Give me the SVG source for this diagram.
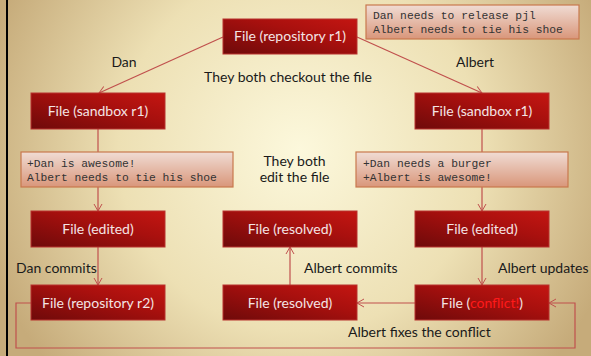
<svg xmlns="http://www.w3.org/2000/svg" width="591" height="356" viewBox="0 0 591 356">
<defs>
<radialGradient id="bg" cx="300" cy="150" r="330" gradientUnits="userSpaceOnUse">
<stop offset="0" stop-color="#fcf8dc"/>
<stop offset="0.55" stop-color="#ede0b4"/>
<stop offset="1" stop-color="#c6ab7a"/>
</radialGradient>
<linearGradient id="node" x1="0" y1="1" x2="1" y2="0">
<stop offset="0" stop-color="#6e0a0a"/>
<stop offset="0.6" stop-color="#a8100e"/>
<stop offset="1" stop-color="#c41612"/>
</linearGradient>
<linearGradient id="note" x1="0" y1="0" x2="0" y2="1">
<stop offset="0" stop-color="#f0dcd4"/>
<stop offset="1" stop-color="#d9967a"/>
</linearGradient>
<marker id="arr" markerWidth="10" markerHeight="10" refX="8" refY="5" orient="auto" markerUnits="userSpaceOnUse">
<path d="M1,1 L8,5 L1,9" fill="none" stroke="#c0504d" stroke-width="1"/>
</marker>
</defs>
<style>
.nd rect{fill:url(#node);stroke:#b8322e;stroke-width:1}
.nd text{font-family:Lato,"Open Sans",sans-serif;font-size:14px;fill:#f4e4e4;text-anchor:middle}
.nt rect{fill:url(#note);stroke:#c8784e;stroke-width:1.2}
.nt text{font-family:"Liberation Mono",monospace;font-size:11.3px;fill:#333}
.lb{font-family:Lato,"Open Sans",sans-serif;font-size:14px;fill:#1a1a1a}
.cn path{fill:none;stroke:#c0504d;stroke-width:1.2}
</style>
<rect x="0" y="0" width="591" height="356" fill="url(#bg)"/>
<rect x="6" y="0" width="2" height="356" fill="#000"/>

<g id="connectors" class="cn">
<path d="M223,37 L99,93" marker-end="url(#arr)"/>
<path d="M357,37 L482,93" marker-end="url(#arr)"/>
<path d="M98,129 L98,211" marker-end="url(#arr)"/>
<path d="M482,129 L482,211" marker-end="url(#arr)"/>
<path d="M98,247 L98,285" marker-end="url(#arr)"/>
<path d="M482,247 L482,285" marker-end="url(#arr)"/>
<path d="M290,285 L290,247" marker-end="url(#arr)"/>
<path d="M415,303 L357,303" marker-end="url(#arr)"/>
<path d="M31,303 L16,303 L16,348 L575,348 L575,303 L549,303" marker-end="url(#arr)"/>
</g>

<g id="note-top" class="nt">
<rect x="366" y="5" width="213" height="34"/>
<text x="373" y="19">Dan needs to release pjl</text>
<text x="373" y="33">Albert needs to tie his shoe</text>
</g>
<g id="note-left" class="nt">
<rect x="21" y="152" width="212" height="35"/>
<text x="27" y="167">+Dan is awesome!</text>
<text x="27" y="181">Albert needs to tie his shoe</text>
</g>
<g id="note-right" class="nt">
<rect x="356" y="152" width="212" height="35"/>
<text x="363" y="167">+Dan needs a burger</text>
<text x="363" y="181">+Albert is awesome!</text>
</g>

<g id="n-repo-r1" class="nd"><rect x="223" y="19" width="134" height="35"/><text x="290" y="41">File (repository r1)</text></g>
<g id="n-sandbox-left" class="nd"><rect x="31" y="93" width="134" height="36"/><text x="98" y="116">File (sandbox r1)</text></g>
<g id="n-sandbox-right" class="nd"><rect x="415" y="93" width="134" height="36"/><text x="482" y="116">File (sandbox r1)</text></g>
<g id="n-edited-left" class="nd"><rect x="31" y="211" width="134" height="36"/><text x="98" y="234">File (edited)</text></g>
<g id="n-resolved-top" class="nd"><rect x="223" y="211" width="134" height="36"/><text x="290" y="234">File (resolved)</text></g>
<g id="n-edited-right" class="nd"><rect x="415" y="211" width="134" height="36"/><text x="482" y="234">File (edited)</text></g>
<g id="n-repo-r2" class="nd"><rect x="31" y="285" width="134" height="35"/><text x="98" y="308">File (repository r2)</text></g>
<g id="n-resolved-bottom" class="nd"><rect x="223" y="285" width="134" height="35"/><text x="290" y="308">File (resolved)</text></g>
<g id="n-conflict" class="nd"><rect x="415" y="285" width="134" height="35"/><text x="482" y="308">File (<tspan fill="#ff1a1a">conflict!</tspan>)</text></g>

<g id="labels">
<text class="lb" x="124" y="67" text-anchor="middle">Dan</text>
<text class="lb" x="475" y="67" text-anchor="middle">Albert</text>
<text class="lb" x="288" y="82" text-anchor="middle">They both checkout the file</text>
<text class="lb" x="294.5" y="166" text-anchor="middle">They both</text>
<text class="lb" x="294.5" y="182" text-anchor="middle">edit the file</text>
<text class="lb" x="16" y="273">Dan commits</text>
<text class="lb" x="304" y="273">Albert commits</text>
<text class="lb" x="498" y="273">Albert updates</text>
<text class="lb" x="348" y="337">Albert fixes the conflict</text>
</g>
</svg>
